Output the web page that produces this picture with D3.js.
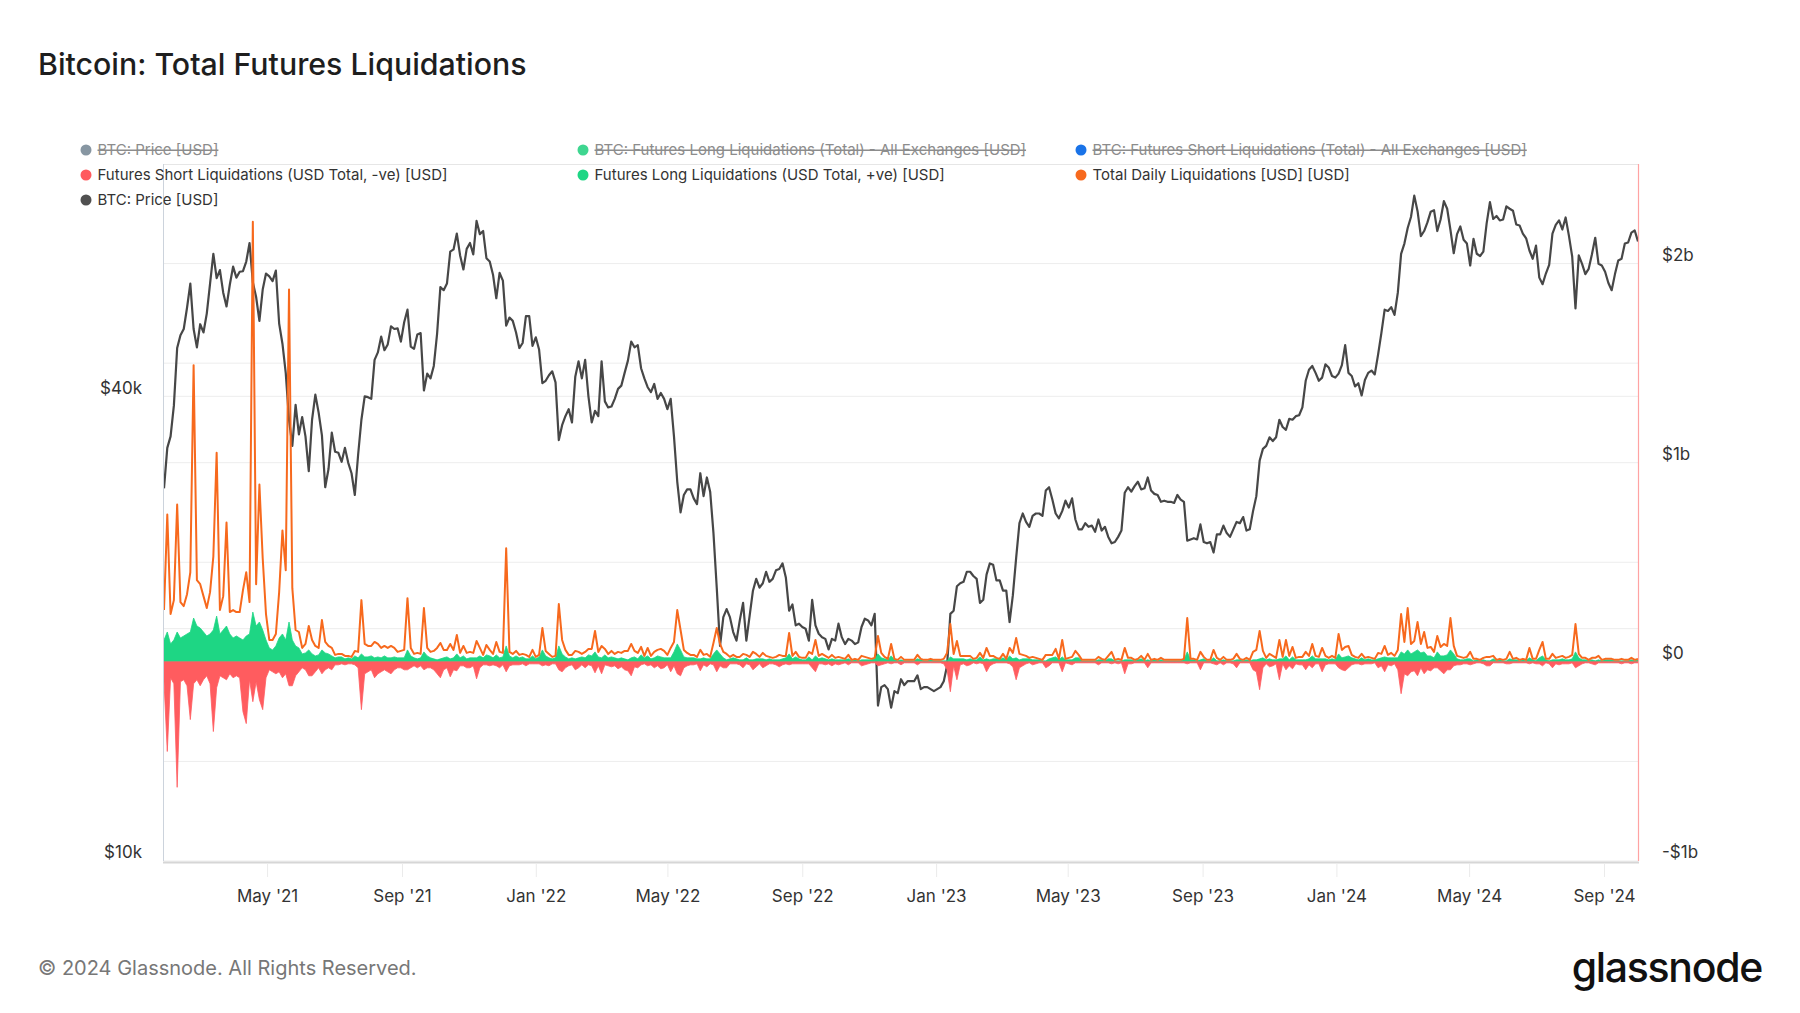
<!DOCTYPE html>
<html>
<head>
<meta charset="utf-8">
<script src="https://cdn.jsdelivr.net/npm/d3@7"></script>
<style>
  html, body { margin: 0; padding: 0; background: #ffffff; }
  svg { display: block; font-family: Inter, "Noto Sans", "DejaVu Sans", sans-serif; }
</style>
</head>
<body>
<svg id="chart" width="1800" height="1013"></svg>
<script>
// ---------------- DATA (3-day samples, 2021-01-27 .. 2024-10-02) ----------------
const seriesStart = "2021-01-27";
const seriesEnd = "2024-10-02";
const stepDays = 3;

// BTC price, thousands of USD
const price = [
  // 2021
  30.4, 34.3,
  35.5, 38.9, 46.2, 48.0, 48.9, 52.1, 56.0, 48.9, 46.3,
  49.6, 48.4, 51.2, 56.0, 61.2, 56.9, 58.3, 54.5, 52.3, 55.8, 58.9,
  57.0, 58.0, 58.1, 59.8, 63.2, 56.2, 53.8, 50.1, 55.0, 57.7,
  57.2, 56.4, 58.2, 49.7, 46.8, 42.9, 37.3, 34.5, 39.0, 35.7,
  37.6, 35.5, 32.0, 37.3, 40.2, 38.1, 35.6, 30.5, 32.2, 35.9,
  33.9, 33.8, 32.9, 34.3, 32.8, 31.8, 29.8, 33.6, 37.3, 40.0,
  39.9, 39.7, 44.6, 45.6, 47.8, 45.9, 46.7, 49.3, 48.9, 49.0, 47.1,
  49.9, 51.8, 46.4, 46.1, 48.1, 48.3, 40.7, 42.8, 42.2, 43.8,
  48.2, 55.4, 54.9, 56.0, 61.6, 62.0, 65.0, 60.9, 58.4, 62.1,
  63.2, 61.1, 67.5, 64.9, 65.5, 60.4, 59.8, 57.5, 53.6, 57.8,
  56.5, 49.4, 50.6, 50.1, 48.4, 46.2, 46.9, 50.8, 50.8, 46.5,
  // 2022
  47.7, 46.0, 41.6, 41.9, 42.6, 43.1, 41.7, 35.1, 36.7, 37.7, 38.5,
  37.0, 42.4, 44.4, 42.2, 44.6, 40.0, 37.0, 38.3, 37.7,
  44.4, 39.4, 38.7, 38.8, 39.7, 40.9, 41.3, 42.9, 44.5, 47.1,
  46.3, 46.6, 43.5, 42.2, 41.1, 40.5, 41.5, 39.7, 40.4, 39.7,
  38.5, 39.7, 35.5, 31.0, 28.3, 29.8, 30.3, 30.3, 29.5, 29.0, 31.8,
  29.7, 31.4, 30.1, 26.6, 22.6, 19.0, 20.7, 21.2, 20.7, 19.8,
  19.3, 20.5, 21.6, 19.3, 20.8, 22.4, 23.2, 22.6, 22.9, 23.7,
  23.0, 23.2, 23.8, 23.9, 24.3, 23.3, 21.1, 21.5, 20.2, 20.3,
  20.1, 20.0, 19.3, 21.8, 20.2, 19.7, 19.5, 19.4, 18.8, 19.4,
  19.3, 20.3, 19.5, 19.1, 19.4, 19.3, 19.1, 19.2, 20.1, 20.6, 20.5,
  20.2, 20.9, 15.9, 16.8, 16.9, 16.7, 15.8, 16.6, 16.5, 17.2,
  16.9, 17.1, 17.1, 17.1, 17.4, 16.7, 16.8, 16.8, 16.7, 16.6,
  // 2023
  16.7, 16.8, 17.1, 17.9, 20.9, 21.1, 22.7, 22.9, 23.0, 23.7,
  23.7, 23.4, 23.2, 21.6, 21.8, 23.5, 24.3, 24.2, 23.1, 23.1,
  22.4, 22.4, 20.4, 22.1, 24.7, 27.4, 28.2, 27.5, 27.1, 28.0,
  28.2, 28.2, 28.0, 30.2, 30.5, 29.4, 28.2, 27.8, 28.4, 29.3,
  28.7, 29.5, 27.7, 26.9, 26.9, 27.4, 27.1, 27.2, 26.7, 27.7,
  26.8, 27.1, 26.3, 25.8, 25.9, 26.3, 26.8, 30.0, 30.5, 30.1,
  30.6, 31.0, 30.3, 30.4, 31.4, 30.2, 29.9, 29.8, 29.2, 29.3, 29.2,
  29.2, 29.1, 29.8, 29.4, 29.2, 26.0, 26.1, 26.2, 26.1, 27.3,
  25.9, 25.8, 25.9, 25.1, 26.5, 26.5, 27.2, 26.6, 26.3, 26.9,
  27.5, 27.4, 27.9, 26.8, 26.9, 28.4, 29.7, 33.0, 34.2, 34.5,
  35.4, 35.0, 35.4, 37.3, 36.5, 36.2, 37.4, 37.3, 37.7, 37.8,
  38.7, 41.9, 43.3, 43.8, 42.9, 41.9, 42.3, 44.0, 43.6, 42.5, 42.3,
  // 2024
  42.8, 43.9, 46.6, 42.9, 42.5, 41.2, 41.6, 40.1, 42.0, 42.9,
  43.2, 42.7, 45.3, 48.3, 51.8, 51.6, 52.2, 51.0, 54.5, 61.2,
  63.1, 66.1, 68.3, 72.8, 69.5, 64.5, 65.5, 67.2, 69.4, 69.7,
  65.5, 67.8, 71.6, 70.0, 65.7, 61.3, 64.9, 66.4, 63.8, 63.1,
  59.1, 64.0, 61.2, 60.8, 61.6, 67.0, 71.4, 67.9, 68.5, 67.6,
  67.8, 70.5, 70.0, 69.6, 66.8, 66.6, 65.0, 64.1, 61.8, 60.3,
  62.7, 57.0, 55.9, 57.7, 59.2, 65.0, 66.7, 67.6, 65.8, 68.2, 64.6,
  60.7, 52.0, 60.9, 59.4, 57.6, 58.5, 61.1, 64.2, 59.4, 59.1,
  58.0, 56.1, 54.9, 57.6, 60.0, 60.3, 63.1, 63.3, 65.2, 65.6,
  63.5
];

// Futures long liquidations, millions of USD (visible green area)
const longLiq = [
  // 2021
  110, 150,
  90, 110, 150, 120, 130, 140, 150, 220, 180,
  170, 150, 130, 140, 160, 230, 140, 160, 180, 140, 120,
  130, 120, 110, 130, 140, 250, 180, 200, 160, 110,
  70, 60, 80, 120, 140, 110, 200, 110, 80, 70,
  40, 45, 60, 40, 30, 35, 60, 45, 40, 30,
  20, 25, 25, 15, 20, 15, 30, 20, 40, 25,
  25, 30, 20, 25, 20, 30, 20, 20, 25, 20, 20,
  20, 60, 30, 20, 15, 20, 50, 30, 20, 15,
  10, 15, 20, 25, 15, 20, 40, 20, 30, 15,
  20, 20, 20, 30, 20, 35, 30, 20, 35, 20,
  25, 80, 30, 20, 30, 20, 25, 15, 15, 30,
  // 2022
  15, 25, 60, 30, 20, 15, 20, 80, 40, 25, 15,
  20, 15, 20, 25, 20, 35, 30, 50, 25,
  20, 35, 20, 25, 20, 15, 20, 15, 10, 20,
  25, 15, 35, 20, 30, 15, 20, 30, 25, 20,
  20, 20, 50, 90, 60, 25, 20, 20, 20, 15, 15,
  20, 15, 15, 40, 60, 40, 20, 10, 15, 20,
  15, 10, 10, 20, 10, 10, 15, 15, 15, 10,
  15, 10, 10, 10, 15, 20, 40, 15, 25, 15,
  10, 10, 25, 10, 30, 15, 20, 15, 10, 15,
  10, 10, 10, 10, 15, 5, 10, 5, 10, 10, 10,
  10, 15, 40, 20, 15, 10, 30, 10, 5, 10,
  5, 5, 5, 5, 15, 10, 5, 5, 10, 5,
  // 2023
  5, 5, 5, 5, 25, 15, 15, 15, 15, 10,
  15, 10, 10, 25, 10, 15, 10, 15, 15, 10,
  20, 10, 30, 15, 20, 10, 15, 15, 15, 10,
  10, 10, 5, 5, 15, 20, 25, 10, 25, 10,
  10, 10, 20, 20, 5, 5, 5, 5, 5, 10,
  10, 5, 15, 15, 5, 5, 5, 10, 10, 10,
  5, 10, 15, 5, 10, 5, 10, 5, 10, 5, 5,
  5, 5, 5, 5, 10, 50, 10, 10, 5, 10,
  15, 5, 5, 20, 5, 5, 10, 5, 5, 5,
  10, 10, 5, 10, 5, 10, 10, 15, 20, 10,
  15, 10, 10, 15, 15, 30, 10, 25, 10, 10,
  10, 10, 15, 30, 15, 15, 15, 15, 10, 15, 10,
  // 2024
  40, 20, 25, 30, 20, 15, 10, 20, 10, 15,
  10, 10, 15, 20, 25, 20, 20, 20, 20, 50,
  40, 60, 40, 50, 60, 45, 50, 30, 30, 20,
  50, 30, 30, 35, 60, 40, 15, 10, 10, 15,
  15, 5, 10, 5, 10, 5, 5, 15, 5, 10,
  5, 5, 15, 10, 10, 5, 10, 5, 20, 10,
  5, 20, 30, 10, 5, 10, 10, 10, 15, 10, 10,
  15, 50, 20, 10, 10, 5, 10, 5, 10, 5,
  10, 10, 10, 5, 5, 5, 5, 5, 10, 5,
  10
];

// Futures short liquidations, millions of USD (drawn as negative)
const shortLiq = [
  // 2021
  100, 450,
  80, 110, 630, 100, 90, 120, 290, 110, 90,
  120, 90, 70, 110, 350, 130, 70, 80, 90, 60, 80,
  70, 80, 250, 310, 90, 200, 100, 190, 240, 80,
  40, 50, 60, 50, 80, 60, 120, 120, 70, 50,
  30, 40, 70, 70, 50, 30, 60, 40, 30, 40,
  15, 15, 10, 15, 10, 10, 15, 30, 240, 60,
  50, 40, 80, 60, 50, 40, 50, 60, 40, 30, 30,
  40, 40, 30, 20, 30, 20, 40, 30, 30, 40,
  60, 80, 40, 30, 75, 40, 45, 20, 20, 30,
  30, 20, 85, 30, 15, 15, 20, 15, 20, 30,
  15, 50, 20, 15, 15, 15, 10, 20, 10, 10,
  // 2022
  10, 10, 20, 15, 20, 10, 10, 40, 50, 30, 20,
  15, 40, 30, 15, 30, 15, 20, 55, 20,
  60, 15, 20, 25, 20, 35, 25, 40, 45, 70,
  25, 30, 15, 10, 20, 15, 30, 20, 35, 30,
  15, 50, 20, 60, 70, 30, 20, 15, 15, 10, 45,
  15, 25, 10, 15, 50, 20, 30, 30, 10, 10,
  10, 15, 30, 10, 15, 40, 25, 10, 30, 20,
  10, 10, 15, 25, 15, 10, 15, 10, 10, 10,
  10, 10, 10, 30, 50, 10, 10, 15, 10, 20,
  10, 15, 10, 5, 15, 5, 5, 5, 20, 15, 10,
  5, 5, 20, 15, 10, 5, 10, 5, 5, 15,
  5, 5, 5, 5, 15, 5, 5, 5, 5, 5,
  // 2023
  5, 5, 10, 40, 150, 20, 90, 15, 10, 20,
  15, 5, 10, 5, 10, 50, 20, 10, 5, 5,
  5, 5, 10, 25, 90, 30, 20, 10, 5, 15,
  10, 5, 5, 30, 20, 5, 5, 5, 50, 5,
  10, 15, 5, 5, 5, 5, 5, 5, 5, 15,
  5, 5, 5, 10, 5, 10, 5, 60, 10, 10,
  5, 5, 5, 5, 30, 5, 5, 5, 5, 5, 5,
  5, 5, 5, 5, 5, 10, 5, 5, 5, 40,
  5, 5, 5, 10, 15, 5, 15, 5, 5, 10,
  30, 5, 5, 5, 5, 40, 50, 140, 30, 10,
  25, 20, 10, 90, 10, 40, 20, 35, 10, 15,
  15, 40, 15, 30, 10, 10, 50, 15, 10, 10, 10,
  // 2024
  30, 40, 45, 30, 15, 10, 10, 15, 10, 10,
  10, 5, 30, 20, 50, 15, 20, 10, 40, 160,
  60, 70, 50, 45, 70, 30, 60, 40, 45, 30,
  30, 45, 60, 40, 40, 20, 15, 15, 10, 10,
  15, 10, 5, 5, 10, 20, 20, 5, 5, 5,
  5, 10, 10, 5, 5, 5, 5, 5, 10, 5,
  10, 10, 20, 5, 10, 30, 10, 15, 10, 10, 10,
  5, 30, 20, 10, 5, 5, 10, 15, 5, 5,
  5, 5, 5, 5, 5, 10, 5, 5, 10, 5,
  5
];

// Total daily liquidations, millions of USD
const totalLiq = [
  // 2021
  260, 740,
  240, 310, 790, 300, 280, 340, 450, 1490, 410,
  390, 330, 270, 350, 530, 1050, 260, 330, 700, 250, 260,
  250, 250, 360, 450, 300, 2210, 390, 890, 520, 240,
  110, 110, 140, 350, 660, 460, 1870, 370, 160, 150,
  70, 90, 180, 110, 80, 70, 210, 100, 80, 70,
  35, 40, 40, 30, 30, 25, 55, 50, 310, 90,
  80, 80, 100, 90, 70, 80, 70, 80, 70, 50, 55,
  60, 320, 70, 40, 45, 40, 270, 70, 50, 55,
  70, 95, 60, 60, 90, 60, 135, 45, 80, 45,
  50, 45, 105, 70, 35, 85, 60, 40, 100, 50,
  45, 570, 50, 40, 55, 35, 40, 35, 25, 60,
  // 2022
  25, 35, 170, 55, 40, 25, 30, 290, 110, 60, 35,
  35, 55, 50, 40, 50, 65, 65, 155, 50,
  80, 65, 40, 55, 40, 50, 45, 55, 55, 90,
  55, 45, 75, 30, 70, 30, 50, 60, 65, 55,
  35, 70, 100, 260, 160, 60, 45, 35, 35, 25, 60,
  35, 40, 25, 95, 170, 90, 50, 40, 25, 35,
  25, 25, 40, 35, 25, 50, 40, 25, 45, 30,
  25, 20, 25, 35, 30, 30, 145, 30, 50, 25,
  20, 20, 50, 40, 110, 30, 40, 30, 20, 35,
  20, 25, 20, 15, 35, 10, 15, 10, 30, 25, 20,
  15, 20, 130, 45, 25, 15, 90, 15, 10, 25,
  10, 10, 10, 10, 35, 15, 10, 10, 15, 10,
  // 2023
  10, 10, 15, 45, 190, 40, 105, 30, 30, 30,
  30, 15, 20, 45, 20, 70, 30, 30, 20, 15,
  40, 15, 70, 45, 120, 40, 35, 30, 20, 25,
  20, 15, 10, 35, 35, 35, 65, 15, 110, 15,
  20, 25, 55, 35, 10, 10, 10, 10, 10, 25,
  15, 10, 30, 50, 10, 15, 10, 70, 20, 20,
  10, 15, 30, 10, 40, 10, 15, 10, 20, 10, 10,
  10, 10, 10, 10, 15, 220, 15, 15, 10, 50,
  25, 10, 10, 60, 20, 10, 25, 10, 10, 15,
  40, 15, 10, 20, 10, 50, 60, 155, 55, 20,
  40, 30, 20, 110, 25, 110, 30, 75, 20, 25,
  25, 50, 30, 90, 30, 25, 70, 30, 20, 30, 20,
  // 2024
  140, 60, 75, 80, 35, 25, 20, 40, 20, 25,
  20, 15, 45, 40, 80, 35, 45, 30, 60, 240,
  100, 270, 90, 105, 200, 90, 150, 70, 75, 50,
  130, 75, 90, 80, 220, 80, 30, 25, 20, 25,
  50, 15, 15, 10, 20, 25, 25, 30, 10, 15,
  10, 15, 50, 15, 20, 10, 15, 10, 70, 15,
  15, 60, 100, 15, 15, 40, 20, 25, 30, 20, 25,
  35, 190, 40, 20, 20, 10, 20, 20, 30, 10,
  15, 15, 15, 10, 10, 15, 10, 10, 20, 10,
  15
];

// Axis ticks
const xTickDates = ["2021-05-01", "2021-09-01", "2022-01-01", "2022-05-01", "2022-09-01",
  "2023-01-01", "2023-05-01", "2023-09-01", "2024-01-01", "2024-05-01", "2024-09-01"];
const xTickLabels = ["May '21", "Sep '21", "Jan '22", "May '22", "Sep '22",
  "Jan '23", "May '23", "Sep '23", "Jan '24", "May '24", "Sep '24"];
const priceTicks = [10, 20, 40, 80];            // thousands USD (log axis)
const priceTickLabels = ["$10k", "", "$40k", ""];
const liqTicks = [-1000, -500, 0, 500, 1000, 1500, 2000]; // millions USD
const liqTickLabels = ["-$1b", "", "$0", "", "$1b", "", "$2b"];

// Legend
const legendNames = [
  "BTC: Price [USD]",
  "BTC: Futures Long Liquidations (Total) - All Exchanges [USD]",
  "BTC: Futures Short Liquidations (Total) - All Exchanges [USD]",
  "Futures Short Liquidations (USD Total, -ve) [USD]",
  "Futures Long Liquidations (USD Total, +ve) [USD]",
  "Total Daily Liquidations [USD] [USD]",
  "BTC: Price [USD]"
];
const legendColors = ["#8796a2", "#3ed690", "#1a73e8", "#ff5a5e", "#1ed684", "#f7691d", "#505050"];
const legendHidden = [true, true, true, false, false, false, false];

// ---------------- CHART ----------------
const N = price.length;
if (longLiq.length !== N || shortLiq.length !== N || totalLiq.length !== N || N !== 449) {
  throw new Error("length mismatch " + [N, longLiq.length, shortLiq.length, totalLiq.length].join(","));
}
const parseD = d3.utcParse("%Y-%m-%d");
const t0 = parseD(seriesStart);
const dates = d3.range(N).map(i => d3.utcDay.offset(t0, i * stepDays));

const svg = d3.select("#chart");
const P = { left: 164, right: 1638, top: 164, bottom: 861 };

const x = d3.scaleUtc().domain([t0, parseD(seriesEnd)]).range([P.left, P.right]);
const yP = d3.scaleLog().domain([10, 80]).range([P.bottom, P.top]);
const yL = d3.scaleLinear().domain([-1000, 2500]).range([P.bottom, P.top]);

// Title
svg.append("text").attr("x", 38).attr("y", 75)
  .attr("font-size", 30.3).attr("font-weight", 500).attr("fill", "#1e1e1e")
  .text("Bitcoin: Total Futures Liquidations");

// Grid lines
const grid = svg.append("g");
liqTicks.forEach(v => {
  grid.append("line").attr("x1", P.left).attr("x2", P.right)
    .attr("y1", yL(v)).attr("y2", yL(v)).attr("stroke", "#ededed").attr("stroke-width", 1);
});
priceTicks.filter(v => v > 10 && v < 80).forEach(v => {
  grid.append("line").attr("x1", P.left).attr("x2", P.right)
    .attr("y1", yP(v)).attr("y2", yP(v)).attr("stroke", "#ededed").attr("stroke-width", 1);
});

// Plot borders
svg.append("line").attr("x1", P.left).attr("x2", P.right).attr("y1", P.top + 0.5).attr("y2", P.top + 0.5)
  .attr("stroke", "#e6e6e6");
svg.append("line").attr("x1", P.left - 0.5).attr("x2", P.left - 0.5).attr("y1", P.top).attr("y2", P.bottom)
  .attr("stroke", "#ccd3dc");

// Clip
svg.append("defs").append("clipPath").attr("id", "clip")
  .append("rect").attr("x", P.left).attr("y", P.top).attr("width", P.right - P.left).attr("height", P.bottom - P.top);
const plotG = svg.append("g").attr("clip-path", "url(#clip)");

// Price line
plotG.append("path").datum(price)
  .attr("fill", "none").attr("stroke", "#474747").attr("stroke-width", 2.2).attr("stroke-linejoin", "round")
  .attr("d", d3.line().x((d, i) => x(dates[i])).y(d => yP(d)));

// Long liquidations (green, positive)
plotG.append("path").datum(longLiq)
  .attr("fill", "#1ed684").attr("stroke", "#1ed684").attr("stroke-width", 0.8)
  .attr("d", d3.area().x((d, i) => x(dates[i])).y0(yL(0)).y1(d => yL(d)));

// Short liquidations (red, negative)
plotG.append("path").datum(shortLiq)
  .attr("fill", "#ff5c5f").attr("stroke", "#ff5c5f").attr("stroke-width", 0.8)
  .attr("d", d3.area().x((d, i) => x(dates[i])).y0(yL(0)).y1(d => yL(-d)));

// Total liquidations (orange line)
plotG.append("path").datum(totalLiq)
  .attr("fill", "none").attr("stroke", "#f7691d").attr("stroke-width", 2).attr("stroke-linejoin", "round")
  .attr("d", d3.line().x((d, i) => x(dates[i])).y(d => yL(d)));

// Right axis line (pink)
svg.append("line").attr("x1", P.right + 0.5).attr("x2", P.right + 0.5).attr("y1", P.top).attr("y2", P.bottom)
  .attr("stroke", "#ffa3a3").attr("stroke-width", 1.2);

// Bottom axis line + ticks
svg.append("line").attr("x1", P.left - 1).attr("x2", P.right + 1).attr("y1", P.bottom + 1.5).attr("y2", P.bottom + 1.5)
  .attr("stroke", "#d6d6d6").attr("stroke-width", 2);

const xAxisG = svg.append("g").attr("transform", `translate(0,${P.bottom + 2})`);
const xAxis = d3.axisBottom(x)
  .tickValues(xTickDates.map(parseD))
  .tickFormat((d, i) => xTickLabels[i])
  .tickSize(14).tickPadding(13);
xAxisG.call(xAxis);
xAxisG.select(".domain").remove();
xAxisG.selectAll(".tick line").attr("stroke", "#ebebeb");
xAxisG.selectAll(".tick text").attr("font-size", 17).attr("fill", "#333")
  .attr("font-family", "Inter, 'Noto Sans', sans-serif");

// Left axis (price, log)
const leftG = svg.append("g").attr("transform", `translate(${P.left},0)`);
leftG.call(d3.axisLeft(yP).tickValues(priceTicks).tickFormat((d, i) => priceTickLabels[i]).tickSize(0).tickPadding(22));
leftG.select(".domain").remove();
leftG.selectAll(".tick text").attr("font-size", 17).attr("fill", "#333").attr("dy", "-0.18em")
  .attr("font-family", "Inter, 'Noto Sans', sans-serif");

// Right axis (liquidations)
const rightG = svg.append("g").attr("transform", `translate(${P.right},0)`);
rightG.call(d3.axisRight(yL).tickValues(liqTicks).tickFormat((d, i) => liqTickLabels[i]).tickSize(0).tickPadding(24));
rightG.select(".domain").remove();
rightG.selectAll(".tick text").attr("font-size", 17).attr("fill", "#333").attr("dy", "-0.18em")
  .attr("font-family", "Inter, 'Noto Sans', sans-serif");

// Legend
const legX = [86, 583, 1081];
const legY = [150, 175, 200];
const legG = svg.append("g");
legendNames.forEach((name, i) => {
  const col = i < 3 ? i : (i < 6 ? i - 3 : 0);
  const row = i < 3 ? 0 : (i < 6 ? 1 : 2);
  const g = legG.append("g").attr("transform", `translate(${legX[col]},${legY[row]})`);
  g.append("circle").attr("r", 5.5).attr("fill", legendColors[i]);
  g.append("text").attr("x", 11.5).attr("y", 0).attr("dy", "0.35em")
    .attr("font-size", 15)
    .attr("fill", legendHidden[i] ? "#8c8c8c" : "#333")
    .attr("text-decoration", legendHidden[i] ? "line-through" : null)
    .text(name);
});

// Footer
svg.append("text").attr("x", 38).attr("y", 968).attr("dy", "0.35em")
  .attr("font-size", 20).attr("fill", "#777").text("© 2024 Glassnode. All Rights Reserved.");
svg.append("text").attr("x", 1762).attr("y", 968).attr("dy", "0.33em").attr("text-anchor", "end")
  .attr("font-size", 41).attr("font-weight", 500).attr("letter-spacing", -1.3).attr("fill", "#111")
  .text("glassnode");
</script>
</body>
</html>
